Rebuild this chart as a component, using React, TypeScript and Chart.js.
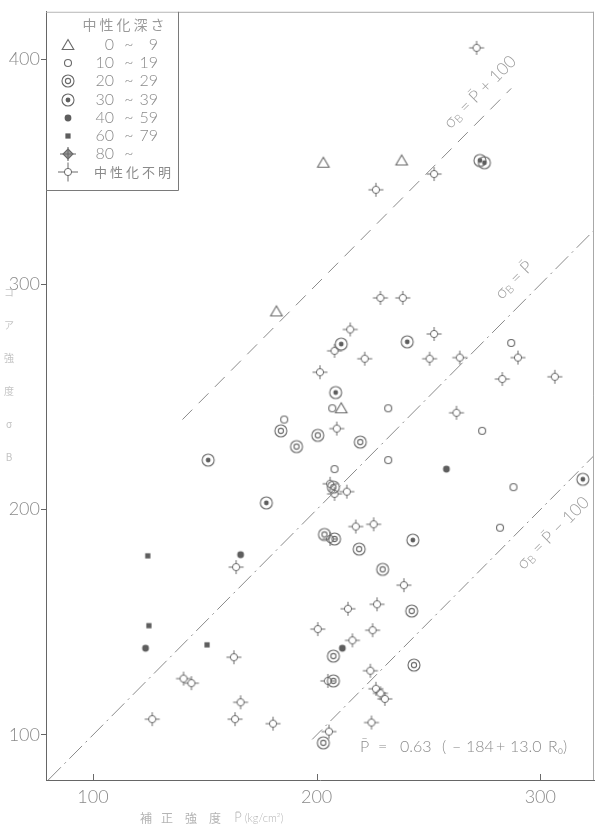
import React, { useEffect, useRef } from "react";
import { Chart, registerables } from "chart.js";

Chart.register(...registerables);

// ---- axis ticks ----
const xTickValues = [100, 200, 300];
const yTickValues = [100, 200, 300, 400];

// ---- legend ----
const legendTitle = "中性化深さ";
const legendKinds = ["tri", "circle", "double", "dot", "filled", "square", "diamond", "cross"];
const legendFrom = ["0", "10", "20", "30", "40", "60", "80", ""];
const legendTo = ["9", "19", "29", "39", "59", "79", "", ""];
const legendUnknown = "中性化不明";

// ---- data (x: 補正強度 P, y: コア強度 σB) ----
const depth0to9: [number, number][] = [
  [203, 354], [238, 355], [182, 288], [211, 245],
];
const depth10to19: [number, number][] = [
  [207, 245], [232, 245], [185.5, 240], [232, 222], [208, 218],
  [287, 274], [274, 235], [288, 210], [282, 192],
];
const depth20to29: [number, number][] = [
  [184, 235], [200.5, 233], [191, 228], [219.5, 230], [207.5, 210],
  [203.5, 189], [208, 187], [219, 182.5], [229.5, 173.5], [242.5, 155],
  [207.5, 135], [207.5, 124], [243.5, 131], [203, 96.5],
];
const depth30to39: [number, number][] = [
  [273, 355], [275, 354], [211, 273.5], [240.5, 274.5], [208.5, 252],
  [151.5, 222], [177.5, 203], [243, 186.5], [319, 213.5],
];
const depth40to59: [number, number][] = [
  [166, 180], [123.5, 138.5], [211.5, 138.5], [258, 218],
];
const depth60to79: [number, number][] = [
  [124.5, 179.5], [125, 148.5], [151, 140],
];
const depth80plus: [number, number][] = [];
const depthUnknown: [number, number][] = [
  [271.5, 405], [226.5, 342], [252.5, 349], [228.5, 294], [238.5, 294],
  [215, 280], [208, 270.5], [252.5, 278], [221.5, 267], [250.5, 267],
  [201.5, 261], [209, 236], [206, 211.5], [208, 207], [213.5, 208],
  [217.5, 192.5], [225.5, 193.5], [206, 187], [290, 267.5], [283, 258],
  [306.5, 259], [264, 267.5], [262.5, 243], [239, 166.5], [227, 158],
  [214, 156], [216, 142], [225, 146.5], [200.5, 147], [224, 128.5],
  [205, 124], [226.5, 120.5], [228.5, 118.5], [230.5, 116], [224.5, 105.5],
  [205.5, 101.5], [164, 174.5], [163, 134.5], [140.5, 125], [144, 123],
  [166, 114.5], [126.5, 107], [163.5, 107], [180.5, 105],
];

// ---- reference lines ----
const lineEqual: [number, number][] = [[80, 80], [324, 324]];
const linePlus100: [number, number][] = [[140, 240], [287, 387]];
const lineMinus100: [number, number][] = [[198, 98], [324, 224]];

const LATIN = `Lato, "DejaVu Sans", sans-serif`;
const CJK = `"Noto Sans CJK JP", sans-serif`;

function makeMarker(kind: string, big = false): HTMLCanvasElement {
  const s = 26;
  const c = document.createElement("canvas");
  c.width = s;
  c.height = s;
  const g = c.getContext("2d")!;
  g.translate(s / 2, s / 2);
  g.strokeStyle = "#6a6a6a";
  g.fillStyle = "#5e5e5e";
  g.lineWidth = 1.1;
  const circ = (r: number, fill = false) => {
    g.beginPath();
    g.arc(0, 0, r, 0, Math.PI * 2);
    if (fill) g.fill();
    else g.stroke();
  };
  switch (kind) {
    case "tri":
      g.beginPath();
      g.moveTo(0, -5.5);
      g.lineTo(5.8, 4.5);
      g.lineTo(-5.8, 4.5);
      g.closePath();
      g.stroke();
      break;
    case "circle":
      circ(3.5);
      break;
    case "double":
      circ(6);
      circ(2.6);
      break;
    case "dot":
      circ(6);
      circ(2.4, true);
      break;
    case "filled":
      circ(3.4, true);
      break;
    case "square":
      g.fillRect(-2.6, -2.6, 5.2, 5.2);
      break;
    case "diamond":
      g.fillStyle = "#9a9a9a";
      g.beginPath();
      g.moveTo(0, -5);
      g.lineTo(5, 0);
      g.lineTo(0, 5);
      g.lineTo(-5, 0);
      g.closePath();
      g.fill();
      g.stroke();
      g.beginPath();
      g.moveTo(-8, 0);
      g.lineTo(8, 0);
      g.moveTo(0, -7);
      g.lineTo(0, 7);
      g.stroke();
      break;
    case "cross": {
      const L = big ? 10 : 7.5;
      g.lineWidth = 1;
      circ(3.6);
      g.beginPath();
      g.moveTo(-L, 0);
      g.lineTo(-3.6, 0);
      g.moveTo(3.6, 0);
      g.lineTo(L, 0);
      g.moveTo(0, -L + 0.5);
      g.lineTo(0, -3.6);
      g.moveTo(0, 3.6);
      g.lineTo(0, L - 0.5);
      g.stroke();
      break;
    }
  }
  return c;
}

function drawSubLabel(ctx: CanvasRenderingContext2D, cx: number, cy: number, rest: string) {
  ctx.save();
  ctx.translate(cx, cy);
  ctx.rotate(-Math.PI / 4);
  ctx.fillStyle = "#9c9c9c";
  ctx.textBaseline = "middle";
  const main = `300 17px ${LATIN}`;
  const sub = `300 11px ${LATIN}`;
  ctx.font = main;
  const w1 = ctx.measureText("σ").width;
  const w3 = ctx.measureText(rest).width;
  ctx.font = sub;
  const w2 = ctx.measureText("B").width;
  let x = -(w1 + w2 + w3) / 2;
  ctx.textAlign = "left";
  ctx.font = main;
  ctx.fillText("σ", x, 0);
  x += w1;
  ctx.font = sub;
  ctx.fillText("B", x, 4);
  x += w2;
  ctx.font = main;
  ctx.fillText(rest, x, 0);
  ctx.restore();
}

export default function App() {
  const ref = useRef<HTMLCanvasElement>(null);

  useEffect(() => {
    document.body.style.margin = "0";
    const canvas = ref.current!;
    const mk: Record<string, HTMLCanvasElement> = {};
    legendKinds.forEach((k) => (mk[k] = makeMarker(k)));
    const legendCross = makeMarker("cross", true);

    const toPts = (a: [number, number][]) => a.map(([x, y]) => ({ x, y }));
    const lineDs = (pts: [number, number][], dash: number[]) => ({
      data: toPts(pts),
      showLine: true,
      borderColor: "#8a8a8a",
      borderWidth: 1,
      borderDash: dash,
      pointRadius: 0,
      pointHoverRadius: 0,
      fill: false,
    });
    const markDs = (pts: [number, number][], kind: string) => ({
      data: toPts(pts),
      showLine: false,
      pointStyle: mk[kind],
      pointRadius: 6,
      pointHoverRadius: 6,
    });

    const decor = {
      id: "decor",
      afterDraw(chart: any) {
        const ctx: CanvasRenderingContext2D = chart.ctx;
        const { left, right, top, bottom } = chart.chartArea;
        const xs = chart.scales.x;
        ctx.save();
        // top & right frame
        ctx.strokeStyle = "#a8a8a8";
        ctx.lineWidth = 1;
        ctx.beginPath();
        ctx.moveTo(left, top + 0.5);
        ctx.lineTo(right, top + 0.5);
        ctx.moveTo(right - 0.5, top);
        ctx.lineTo(right - 0.5, bottom);
        ctx.stroke();
        // x ticks pointing inward
        ctx.strokeStyle = "#6a6a6a";
        ctx.beginPath();
        xTickValues.forEach((v) => {
          const px = Math.round(xs.getPixelForValue(v)) + 0.5;
          ctx.moveTo(px, bottom);
          ctx.lineTo(px, bottom - 6);
        });
        ctx.stroke();

        // legend box
        const bx0 = left, by0 = top, bx1 = 178, by1 = 190;
        ctx.fillStyle = "#ffffff";
        ctx.fillRect(bx0 + 1, by0 + 1, bx1 - bx0 - 1, by1 - by0 - 1);
        ctx.strokeStyle = "#7a7a7a";
        ctx.beginPath();
        ctx.moveTo(bx1 + 0.5, by0);
        ctx.lineTo(bx1 + 0.5, by1 + 0.5);
        ctx.lineTo(bx0, by1 + 0.5);
        ctx.stroke();
        ctx.fillStyle = "#9a9a9a";
        ctx.textBaseline = "middle";
        ctx.textAlign = "center";
        ctx.font = `14px ${CJK}`;
        (ctx as any).letterSpacing = "3px";
        ctx.fillText(legendTitle, 125, 25);
        (ctx as any).letterSpacing = "0px";
        const rowY = [45, 63, 81, 100, 118, 136, 154, 172];
        legendKinds.forEach((k, i) => {
          const img = k === "cross" ? legendCross : mk[k];
          ctx.drawImage(img, 68 - img.width / 2, rowY[i] - img.height / 2);
          ctx.fillStyle = "#8a8a8a";
          if (k === "cross") {
            ctx.font = `13px ${CJK}`;
            ctx.textAlign = "left";
            (ctx as any).letterSpacing = "3px";
            ctx.fillText(legendUnknown, 94, rowY[i]);
            (ctx as any).letterSpacing = "0px";
          } else {
            ctx.font = `300 16px ${LATIN}`;
            ctx.textAlign = "right";
            ctx.fillText(legendFrom[i], 114, rowY[i]);
            ctx.textAlign = "center";
            ctx.fillText("~", 129, rowY[i]);
            ctx.textAlign = "right";
            if (legendTo[i]) ctx.fillText(legendTo[i], 158, rowY[i]);
          }
        });

        // reference line labels
        drawSubLabel(ctx, 480, 92, " = P̄ + 100");
        drawSubLabel(ctx, 514, 280, " = P̄");
        drawSubLabel(ctx, 553, 533, " = P̄ − 100");

        // formula
        ctx.fillStyle = "#8c8c8c";
        ctx.font = `300 16px ${LATIN}`;
        ctx.textAlign = "left";
        ctx.textBaseline = "middle";
        const parts: [string, number][] = [
          ["P̄", 360], ["=", 378], ["0.63", 400], ["(", 442], ["–", 452],
          ["184", 466], ["+", 496], ["13.0", 510], ["R₀)", 548],
        ];
        parts.forEach(([t, x]) => ctx.fillText(t, x, 747));

        // x axis title
        ctx.fillStyle = "#b4b4b4";
        ctx.textAlign = "center";
        const xt: [string, number, string][] = [
          ["補", 146, `12px ${CJK}`], ["正", 167, `12px ${CJK}`], ["強", 191, `12px ${CJK}`],
          ["度", 215, `12px ${CJK}`], ["P̄", 238, `300 13px ${LATIN}`], ["(kg/cm²)", 264, `300 11px ${LATIN}`],
        ];
        xt.forEach(([t, x, f]) => {
          ctx.font = f;
          ctx.fillText(t, x, 818);
        });

        // y axis title (stacked)
        ctx.fillStyle = "#c4c4c4";
        ctx.font = `10px ${CJK}`;
        const yt = ["コ", "ア", "強", "度", "σ", "B"];
        yt.forEach((t, i) => ctx.fillText(t, 9, 292 + i * 33));
        ctx.restore();
      },
    };

    const tickFont = { family: LATIN, size: 18, weight: 300 as any };

    const chart = new Chart(canvas, {
      type: "scatter",
      data: {
        datasets: [
          lineDs(lineEqual, [18, 5, 2, 5]),
          lineDs(linePlus100, [14, 9]),
          lineDs(lineMinus100, [14, 5, 2, 5]),
          markDs(depth0to9, "tri"),
          markDs(depth10to19, "circle"),
          markDs(depth20to29, "double"),
          markDs(depth30to39, "dot"),
          markDs(depth40to59, "filled"),
          markDs(depth60to79, "square"),
          markDs(depth80plus, "diamond"),
          markDs(depthUnknown, "cross"),
        ] as any,
      },
      options: {
        animation: false,
        responsive: false,
        devicePixelRatio: 1,
        events: [],
        layout: { padding: { top: 8, right: 3, left: 0, bottom: 0 } },
        plugins: { legend: { display: false }, tooltip: { enabled: false } },
        scales: {
          x: {
            type: "linear",
            min: 79,
            max: 324,
            afterBuildTicks: (s: any) => {
              s.ticks = xTickValues.map((v) => ({ value: v }));
            },
            afterFit: (s: any) => {
              s.height = 46;
            },
            grid: { display: false, drawTicks: false },
            border: { display: true, color: "#666666", width: 1 },
            ticks: { font: tickFont, color: "#8a8a8a", padding: 6, maxRotation: 0, autoSkip: false },
          },
          y: {
            type: "linear",
            min: 80,
            max: 421,
            afterBuildTicks: (s: any) => {
              s.ticks = yTickValues.map((v) => ({ value: v }));
            },
            afterFit: (s: any) => {
              s.width = 46;
            },
            grid: { drawOnChartArea: false, drawTicks: true, tickLength: 5, color: "#666666" },
            border: { display: true, color: "#666666", width: 1 },
            ticks: { font: tickFont, color: "#8a8a8a", padding: 1, autoSkip: false },
          },
        },
      } as any,
      plugins: [decor as any],
    });
    return () => chart.destroy();
  }, []);

  return (
    <canvas
      ref={ref}
      width={601}
      height={826}
      style={{ display: "block", width: 601, height: 826 }}
    />
  );
}
